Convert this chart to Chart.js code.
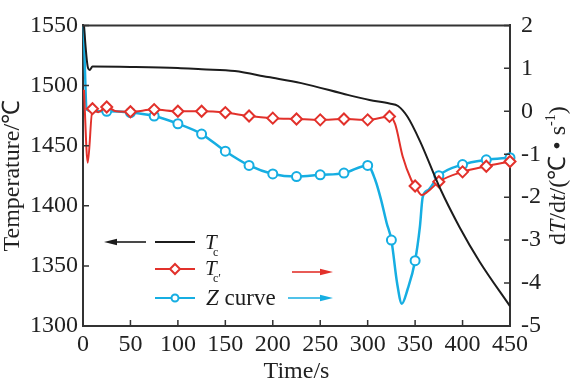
<!DOCTYPE html>
<html>
<head>
<meta charset="utf-8">
<script src="https://cdn.jsdelivr.net/npm/chart.js@4.4.1/dist/chart.umd.min.js"></script>
<style>
html,body{margin:0;padding:0;background:#fff;font-family:"Liberation Serif",serif;}
#wrap{position:relative;width:574px;height:382px;}
#probe{position:absolute;left:-999px;top:0;font-family:"Liberation Serif";font-size:24px;}
</style>
</head>
<body>
<span id="probe">1550 Time/s <i>T</i></span>
<div id="wrap"><canvas id="c" width="574" height="382"></canvas></div>
<script>
// ---- data ----
const tcTime = [0, 5, 7, 10, 50, 100, 125, 160, 195, 230, 280, 302, 323, 332, 342, 355, 376, 397, 418, 450];
const tcTemp = [1560, 1515.5, 1513, 1515.8, 1515.5, 1514.6, 1513.5, 1512, 1507, 1502, 1492, 1488, 1485, 1483, 1474, 1454, 1415, 1382, 1353.5, 1316.5];

const tcpTime = [1, 5, 10, 16, 25, 35, 50, 75, 100, 125, 150, 175, 200, 225, 250, 275, 300, 323, 329, 337, 346, 350, 357, 366, 375, 400, 425, 450];
const tcpRate = [0.5, -1.2, 0.06, -0.02, 0.1, 0.0, -0.01, 0.04, 0.0, 0.0, -0.03, -0.11, -0.16, -0.18, -0.2, -0.18, -0.2, -0.12, -0.3, -1.06, -1.6, -1.74, -1.95, -1.82, -1.64, -1.41, -1.28, -1.17];
const tcpMarkers = [10, 25, 50, 75, 100, 125, 150, 175, 200, 225, 250, 275, 300, 323, 350, 375, 400, 425, 450];

const zTime = [0, 4, 10, 25, 50, 75, 100, 125, 150, 175, 200, 225, 250, 275, 300, 308, 314, 320, 325, 331, 336, 342, 350, 355, 358, 364, 375, 400, 425, 450];
const zRate = [2.6, 0.04, 0.0, 0.0, -0.03, -0.11, -0.29, -0.53, -0.93, -1.26, -1.46, -1.52, -1.48, -1.44, -1.26, -1.6, -2.05, -2.6, -3.0, -4.0, -4.48, -4.15, -3.48, -2.7, -2.0, -1.83, -1.5, -1.24, -1.13, -1.08];
const zMarkers = [25, 50, 75, 100, 125, 150, 175, 200, 225, 250, 275, 300, 325, 350, 375, 400, 425, 450];

const xTicks = [0, 50, 100, 150, 200, 250, 300, 350, 400, 450];
const tempTicks = [1300, 1350, 1400, 1450, 1500, 1550];
const rateTicks = [-5, -4, -3, -2, -1, 0, 1, 2];

// ---- style ----
const BLACK = '#1c1c1c', RED = '#e2312b', BLUE = '#16aee2', AXIS = '#333333';
const SERIF = '"Liberation Serif", "Times New Roman", Times, serif';
Chart.defaults.font.family = SERIF;
Chart.defaults.font.size = 24;
Chart.defaults.color = '#222';

function pts(ts, vs){ return ts.map((t,i)=>({x:t, y:vs[i]})); }

function drawRich(ctx, parts, x, y, align){
  let w = 0;
  parts.forEach(p=>{ ctx.font = p[1]; w += ctx.measureText(p[0]).width; });
  let cx = align === 'center' ? x - w/2 : x;
  parts.forEach(p=>{ ctx.font = p[1]; ctx.fillText(p[0], cx, y + (p[2]||0)); cx += ctx.measureText(p[0]).width; });
}

function arrow(ctx, x1, x2, y, color, dir){
  ctx.strokeStyle = color; ctx.fillStyle = color; ctx.lineWidth = 1.6;
  ctx.beginPath();
  if (dir < 0){ ctx.moveTo(x1+10, y); ctx.lineTo(x2, y); }
  else { ctx.moveTo(x1, y); ctx.lineTo(x2-10, y); }
  ctx.stroke();
  ctx.beginPath();
  if (dir < 0){ ctx.moveTo(x1, y); ctx.lineTo(x1+13, y-3.2); ctx.lineTo(x1+13, y+3.2); }
  else { ctx.moveTo(x2, y); ctx.lineTo(x2-13, y-3.2); ctx.lineTo(x2-13, y+3.2); }
  ctx.closePath(); ctx.fill();
}

const overlay = {
  id: 'overlay',
  afterDraw(chart){
    const {ctx, chartArea: a, scales} = chart;
    ctx.save();
    ctx.strokeStyle = AXIS; ctx.lineWidth = 2;
    ctx.beginPath(); ctx.moveTo(a.left - 1, a.top); ctx.lineTo(a.right + 1, a.top); ctx.stroke();
    ctx.lineWidth = 1.5; ctx.beginPath();
    xTicks.forEach(v=>{ const p = scales.x.getPixelForValue(v); ctx.moveTo(p, a.bottom); ctx.lineTo(p, a.bottom - 6); });
    tempTicks.forEach(v=>{ const p = scales.y.getPixelForValue(v); ctx.moveTo(a.left, p); ctx.lineTo(a.left + 6, p); });
    rateTicks.forEach(v=>{ const p = scales.y1.getPixelForValue(v); ctx.moveTo(a.right, p); ctx.lineTo(a.right - 6, p); });
    ctx.stroke();

    ctx.fillStyle = '#222'; ctx.textBaseline = 'middle'; ctx.textAlign = 'left';
    const cy = (a.top + a.bottom) / 2;
    ctx.save(); ctx.translate(13, cy); ctx.rotate(-Math.PI/2);
    drawRich(ctx, [['Temperature/℃', '24px ' + SERIF]], 0, 0, 'center');
    ctx.restore();
    ctx.save(); ctx.translate(559, cy); ctx.rotate(-Math.PI/2);
    drawRich(ctx, [
      ['d', '24px ' + SERIF], ['T', 'italic 24px ' + SERIF], ['/d', '24px ' + SERIF], ['t', 'italic 24px ' + SERIF],
      ['/(℃ • s', '24px ' + SERIF], ['-1', '14px ' + SERIF, -8], [')', '24px ' + SERIF]
    ], 0, 0, 'center');
    ctx.restore();
    drawRich(ctx, [['Time/s', '24px ' + SERIF]], (a.left + a.right)/2, 372, 'center');

    ctx.textBaseline = 'alphabetic';
    arrow(ctx, 104, 146, 242, BLACK, -1);
    ctx.strokeStyle = BLACK; ctx.lineWidth = 2;
    ctx.beginPath(); ctx.moveTo(155, 242); ctx.lineTo(195, 242); ctx.stroke();
    ctx.fillStyle = BLACK;
    drawRich(ctx, [['T', 'italic 21px ' + SERIF]], 205, 249, 'left');
    drawRich(ctx, [['c', '12px ' + SERIF]], 213, 256, 'left');

    ctx.strokeStyle = RED; ctx.lineWidth = 2;
    ctx.beginPath(); ctx.moveTo(155, 269); ctx.lineTo(195, 269); ctx.stroke();
    ctx.fillStyle = '#fff';
    ctx.beginPath(); ctx.moveTo(175, 264); ctx.lineTo(180, 269); ctx.lineTo(175, 274); ctx.lineTo(170, 269); ctx.closePath();
    ctx.fill(); ctx.stroke();
    ctx.fillStyle = BLACK;
    drawRich(ctx, [['T', 'italic 21px ' + SERIF]], 205, 275, 'left');
    drawRich(ctx, [['c′', '12px ' + SERIF]], 213, 282, 'left');
    arrow(ctx, 292, 333, 272, RED, 1);

    ctx.strokeStyle = BLUE; ctx.lineWidth = 2;
    ctx.beginPath(); ctx.moveTo(155, 298); ctx.lineTo(195, 298); ctx.stroke();
    ctx.fillStyle = '#fff';
    ctx.beginPath(); ctx.arc(175, 298, 3.5, 0, Math.PI*2); ctx.fill(); ctx.stroke();
    ctx.fillStyle = BLACK;
    drawRich(ctx, [['Z', 'italic 23px ' + SERIF], [' curve', '23px ' + SERIF]], 206, 305, 'left');
    arrow(ctx, 288, 333, 298, BLUE, 1);
    ctx.restore();
  }
};

const tickFont = {family: SERIF, size: 24};
const plain = v => String(v);

function build(){
  new Chart(document.getElementById('c'), {
    type: 'line',
    data: {
      datasets: [
        { label: 'Tc', data: pts(tcTime, tcTemp), yAxisID: 'y', borderColor: BLACK, borderWidth: 2,
          pointRadius: 0, cubicInterpolationMode: 'monotone', clip: {left: 0, right: 0, top: 0, bottom: 0} },
        { label: "Tc'", data: pts(tcpTime, tcpRate), yAxisID: 'y1', borderColor: RED, borderWidth: 2,
          pointStyle: 'rectRot', backgroundColor: '#fff', pointBackgroundColor: '#fff', pointBorderColor: RED, pointBorderWidth: 2,
          pointRadius: c => tcpMarkers.includes(c.raw && c.raw.x) ? 5.5 : 0,
          cubicInterpolationMode: 'monotone', clip: {left: 8, right: 8, top: 0, bottom: 8} },
        { label: 'Z curve', data: pts(zTime, zRate), yAxisID: 'y1', borderColor: BLUE, borderWidth: 2.5,
          pointStyle: 'circle', backgroundColor: '#fff', pointBackgroundColor: '#fff', pointBorderColor: BLUE, pointBorderWidth: 2,
          pointRadius: c => zMarkers.includes(c.raw && c.raw.x) ? 4.5 : 0,
          cubicInterpolationMode: 'monotone', clip: {left: 8, right: 8, top: 0, bottom: 8} }
      ]
    },
    options: {
      responsive: false, animation: false, devicePixelRatio: 1,
      layout: {padding: {top: 8, left: 0, right: 0, bottom: 0}},
      plugins: {legend: {display: false}, tooltip: {enabled: false}},
      elements: {line: {fill: false}},
      scales: {
        x: { type: 'linear', min: 0, max: 450, position: 'bottom',
          afterBuildTicks: s => { s.ticks = xTicks.map(v=>({value: v})); },
          afterFit: s => { s.height = 56; },
          grid: {display: false, drawTicks: false},
          border: {display: true, color: AXIS, width: 2},
          ticks: {font: tickFont, color: '#222', padding: 4, maxRotation: 0, autoSkip: false, callback: plain} },
        y: { type: 'linear', min: 1300, max: 1550, position: 'left',
          afterBuildTicks: s => { s.ticks = tempTicks.map(v=>({value: v})); },
          afterFit: s => { s.width = 83; },
          grid: {display: false, drawTicks: false},
          border: {display: true, color: AXIS, width: 2},
          ticks: {font: tickFont, color: '#222', padding: 5, autoSkip: false, callback: plain} },
        y1: { type: 'linear', min: -5, max: 2, position: 'right',
          afterBuildTicks: s => { s.ticks = rateTicks.map(v=>({value: v})); },
          afterFit: s => { s.width = 64; },
          grid: {display: false, drawTicks: false},
          border: {display: true, color: AXIS, width: 2},
          ticks: {font: tickFont, color: '#222', padding: 11, autoSkip: false, callback: plain} }
      }
    },
    plugins: [overlay]
  });
}

Promise.all([
  document.fonts.load('24px "Liberation Serif"'),
  document.fonts.load('italic 24px "Liberation Serif"')
]).catch(()=>{}).then(build);
</script>
</body>
</html>
